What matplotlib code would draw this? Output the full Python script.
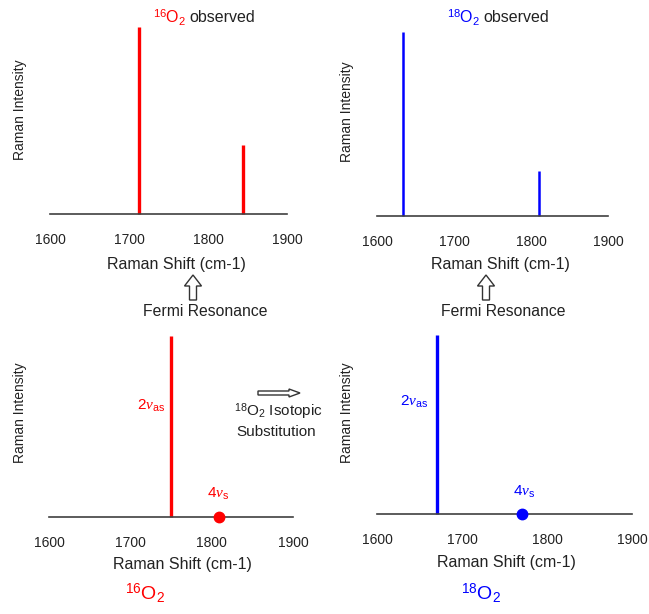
import matplotlib
matplotlib.use("Agg")
import matplotlib.pyplot as plt
from matplotlib.patches import FancyArrow

plt.rcParams['font.family'] = ['Liberation Sans', 'DejaVu Sans']
plt.rcParams['mathtext.fontset'] = 'custom'
plt.rcParams['mathtext.rm'] = 'Liberation Sans'
plt.rcParams['mathtext.sf'] = 'Liberation Sans'
plt.rcParams['mathtext.it'] = 'Liberation Serif:italic'
plt.rcParams['mathtext.bf'] = 'Liberation Sans:bold'

# ---- data ----
xticks = [1600, 1700, 1800, 1900]
obs16_pos = [1713, 1844]
obs16_int = [1.0, 0.37]
obs18_pos = [1634, 1810]
obs18_int = [1.0, 0.245]
unp16_line_pos = 1750
unp16_dot_pos = 1809
unp18_line_pos = 1670
unp18_dot_pos = 1770

W, H = 649, 614
fig = plt.figure(figsize=(W / 100, H / 100), dpi=100)


def px_ax(x0, x1, ybot, ytop):
    return fig.add_axes([x0 / W, 1 - ybot / H, (x1 - x0) / W, (ybot - ytop) / H])


def ftext(x, y, s, **kw):
    fig.text(x / W, 1 - y / H, s, **kw)


def style(ax):
    ax.set_xlim(1600, 1900)
    ax.set_ylim(0, 1)
    for sp in ['top', 'right', 'left']:
        ax.spines[sp].set_visible(False)
    ax.spines['bottom'].set_color('#404040')
    ax.spines['bottom'].set_linewidth(1.2)
    ax.set_yticks([])
    ax.set_xticks(xticks)
    ax.set_xticklabels([str(t) for t in xticks])
    ax.tick_params(axis='x', length=0, pad=14, labelsize=10, labelcolor='#222222')
    ax.patch.set_alpha(0)


RED = '#ff0000'
BLUE = '#0000ff'

# top-left
ax1 = px_ax(50, 287, 214, 27)
style(ax1)
ax1.vlines(obs16_pos, 0, obs16_int, colors=RED, lw=2.4, clip_on=False)

# top-right
ax2 = px_ax(377, 608, 216, 32)
style(ax2)
ax2.vlines(obs18_pos, 0, obs18_int, colors=BLUE, lw=1.8, clip_on=False)

# bottom-left
ax3 = px_ax(49, 293, 517, 336)
style(ax3)
ax3.vlines([unp16_line_pos], 0, [1.0], colors=RED, lw=2.4, clip_on=False)
ax3.plot([unp16_dot_pos], [0], 'o', color=RED, ms=7.5, clip_on=False, zorder=5)

# bottom-right
ax4 = px_ax(377, 632, 514, 335)
style(ax4)
ax4.vlines([unp18_line_pos], 0, [1.0], colors=BLUE, lw=2.4, clip_on=False)
ax4.plot([unp18_dot_pos], [0], 'o', color=BLUE, ms=7.5, clip_on=False, zorder=5)

# axis labels
for x, y in [(176, 264), (500, 264), (182, 565), (506, 563)]:
    ftext(x, y, 'Raman Shift (cm-1)', ha='center', va='center', fontsize=11.5, color='#222222')
for x, y in [(20, 110), (347, 112), (20, 413), (347, 413)]:
    ftext(x, y, 'Raman Intensity', ha='center', va='center', rotation=90, fontsize=10, color='#222222')

# titles
ftext(186, 18, r'$^{16}$O$_2$', ha='right', va='center', fontsize=11.5, color=RED)
ftext(189, 18, 'observed', ha='left', va='center', fontsize=11.5, color='#222222')
ftext(480, 18, r'$^{18}$O$_2$', ha='right', va='center', fontsize=11.5, color=BLUE)
ftext(483, 18, 'observed', ha='left', va='center', fontsize=11.5, color='#222222')

# Fermi resonance
ftext(205, 312, 'Fermi Resonance', ha='center', va='center', fontsize=11.3, color='#222222')
ftext(503, 312, 'Fermi Resonance', ha='center', va='center', fontsize=11.3, color='#222222')

# hollow up arrows (in inches via dpi_scale_trans)
for xc in [193, 486]:
    arr = FancyArrow(xc / 100, (H - 300) / 100, 0, 25 / 100, width=7 / 100,
                     head_width=17 / 100, head_length=11 / 100, length_includes_head=True,
                     facecolor='white', edgecolor='#333333', lw=1.0,
                     transform=fig.dpi_scale_trans)
    fig.add_artist(arr)

# hollow right arrow
arr = FancyArrow(258 / 100, (H - 393) / 100, 42 / 100, 0, width=4 / 100,
                 head_width=8 / 100, head_length=11 / 100, length_includes_head=True,
                 facecolor='white', edgecolor='#333333', lw=1.0,
                 transform=fig.dpi_scale_trans)
fig.add_artist(arr)

ftext(278, 412, r'$^{18}$O$_2$ Isotopic', ha='center', va='center', fontsize=11, color='#222222')
ftext(276, 432, 'Substitution', ha='center', va='center', fontsize=11, color='#222222')

# mode labels
ftext(165, 406, r'2$\nu_{\mathrm{as}}$', ha='right', va='center', fontsize=11, color=RED)
ftext(218, 494, r'4$\nu_{\mathrm{s}}$', ha='center', va='center', fontsize=11, color=RED)
ftext(428, 402, r'2$\nu_{\mathrm{as}}$', ha='right', va='center', fontsize=11, color=BLUE)
ftext(524, 492, r'4$\nu_{\mathrm{s}}$', ha='center', va='center', fontsize=11, color=BLUE)

# species labels
ftext(145, 593, r'$^{16}$O$_2$', ha='center', va='center', fontsize=14, color=RED)
ftext(481, 593, r'$^{18}$O$_2$', ha='center', va='center', fontsize=14, color=BLUE)

fig.savefig('out.png', dpi=100)
